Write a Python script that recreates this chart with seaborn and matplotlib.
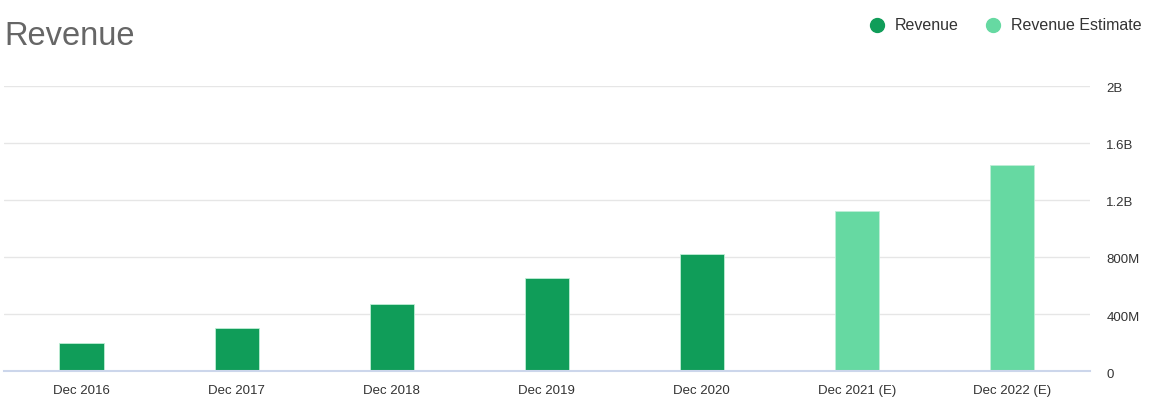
import matplotlib
matplotlib.use("Agg")
import matplotlib.pyplot as plt
import seaborn as sns
import pandas as pd
from matplotlib.lines import Line2D
from matplotlib.transforms import ScaledTranslation

categories = ["Dec 2016", "Dec 2017", "Dec 2018", "Dec 2019", "Dec 2020", "Dec 2021 (E)", "Dec 2022 (E)"]
values = [194e6, 304e6, 467e6, 654e6, 824e6, 1125e6, 1447e6]
kinds = ["Revenue", "Revenue", "Revenue", "Revenue", "Revenue", "Revenue Estimate", "Revenue Estimate"]
y_ticks = [0, 400e6, 800e6, 1.2e9, 1.6e9, 2e9]
y_labels = ["0", "400M", "800M", "1.2B", "1.6B", "2B"]

colors = {"Revenue": "#109d59", "Revenue Estimate": "#66d9a2"}

df = pd.DataFrame({"cat": categories, "value": values, "kind": kinds})

sns.set_theme(style="white")
plt.rcParams["font.family"] = ["Liberation Sans", "DejaVu Sans"]

fig = plt.figure(figsize=(11.56, 4.11), dpi=100)
ax = fig.add_axes([0.0035, 0.0973, 0.939, 0.6935])

sns.barplot(data=df, x="cat", y="value", hue="kind", palette=colors, dodge=False,
            width=0.285, ax=ax, legend=False, edgecolor="#bfeed6", linewidth=0.6, saturation=1)

ax.set_ylim(0, 2e9)
ax.set_xlim(-0.5, len(categories) - 0.5)
ax.set_yticks(y_ticks)
ax.set_yticklabels(y_labels)
ax.yaxis.tick_right()
ax.tick_params(axis="y", length=0, pad=12, labelsize=9.5, labelcolor="#333333")
ax.tick_params(axis="x", length=0, pad=10, labelsize=9.5, labelcolor="#333333")
offset = ScaledTranslation(0, -2 / 100, fig.dpi_scale_trans)
for lab in ax.get_yticklabels():
    lab.set_horizontalalignment("left")
    lab.set_transform(lab.get_transform() + offset)
ax.set_xlabel("")
ax.set_ylabel("")
ax.grid(axis="y", color="#e6e6e6", linewidth=1)
ax.set_axisbelow(True)
for s in ["top", "left", "right"]:
    ax.spines[s].set_visible(False)
ax.spines["bottom"].set_color("#ccd6eb")
ax.spines["bottom"].set_linewidth(1.5)

fig.text(0.004, 0.912, "Revenue", fontsize=23.5, color="#666666", ha="left", va="center")

handles = [Line2D([0], [0], marker="o", linestyle="", markersize=10,
                  markerfacecolor=colors[k], markeredgecolor=colors[k], label=k)
           for k in ["Revenue", "Revenue Estimate"]]
leg = fig.legend(handles=handles, loc="upper right", bbox_to_anchor=(1.0, 0.99), ncol=2,
                 frameon=False, fontsize=11.5, handletextpad=0.5, columnspacing=1.6,
                 handlelength=1.2)
for t in leg.get_texts():
    t.set_color("#333333")

fig.savefig("out.png", dpi=100)
